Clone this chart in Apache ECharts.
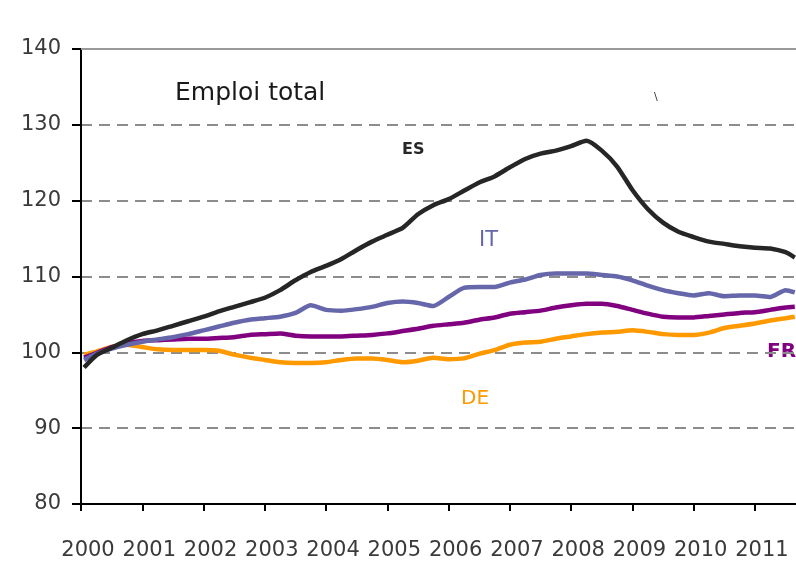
<!DOCTYPE html>
<html>
<head>
<meta charset="utf-8">
<script src="https://cdn.jsdelivr.net/npm/echarts@6/dist/echarts.min.js"></script>
<style>
  html, body { margin: 0; padding: 0; background: #fff; }
  #chart { width: 796px; height: 561px; }
</style>
</head>
<body>
<div id="chart"></div>
<script>
// trimestres (annee decimale)
var times = [2000.05, 2000.25, 2000.5, 2000.75, 2001, 2001.25, 2001.5, 2001.75,
  2002, 2002.25, 2002.5, 2002.75, 2003, 2003.25, 2003.5, 2003.75,
  2004, 2004.25, 2004.5, 2004.75, 2005, 2005.25, 2005.5, 2005.75,
  2006, 2006.25, 2006.5, 2006.75, 2007, 2007.25, 2007.5, 2007.75,
  2008, 2008.25, 2008.5, 2008.75, 2009, 2009.25, 2009.5, 2009.75,
  2010, 2010.25, 2010.5, 2010.75, 2011, 2011.25, 2011.5, 2011.65];

var esValues = [98.0, 99.6, 100.6, 101.6, 102.4, 102.9, 103.5, 104.1,
  104.7, 105.4, 106.0, 106.6, 107.2, 108.2, 109.5, 110.6,
  111.4, 112.3, 113.5, 114.6, 115.5, 116.4, 118.2, 119.4,
  120.2, 121.3, 122.4, 123.2, 124.4, 125.5, 126.2, 126.6,
  127.2, 127.9, 126.6, 124.5, 121.4, 118.9, 117.1, 115.9,
  115.2, 114.6, 114.3, 114.0, 113.8, 113.7, 113.2, 112.5];

var itValues = [99.0, 99.8, 100.5, 101.0, 101.4, 101.7, 102.0, 102.4,
  102.9, 103.4, 103.9, 104.3, 104.5, 104.7, 105.2, 106.2,
  105.6, 105.5, 105.7, 106.0, 106.5, 106.7, 106.5, 106.1,
  107.3, 108.5, 108.6, 108.6, 109.2, 109.6, 110.2, 110.4,
  110.4, 110.4, 110.2, 110.0, 109.5, 108.8, 108.2, 107.8,
  107.5, 107.8, 107.4, 107.5, 107.5, 107.3, 108.2, 107.9];

var frValues = [99.3, 99.9, 100.7, 101.2, 101.5, 101.6, 101.7, 101.8,
  101.8, 101.9, 102.0, 102.3, 102.4, 102.5, 102.2, 102.1,
  102.1, 102.1, 102.2, 102.3, 102.5, 102.8, 103.1, 103.5,
  103.7, 103.9, 104.3, 104.6, 105.1, 105.3, 105.5, 105.9,
  106.2, 106.4, 106.4, 106.1, 105.6, 105.1, 104.7, 104.6,
  104.6, 104.8, 105.0, 105.2, 105.3, 105.6, 105.9, 106.0];

var deValues = [99.7, 100.1, 100.7, 101.0, 100.7, 100.4, 100.3, 100.3,
  100.3, 100.2, 99.7, 99.3, 99.0, 98.7, 98.6, 98.6,
  98.7, 99.0, 99.2, 99.2, 99.0, 98.7, 98.9, 99.3,
  99.1, 99.2, 99.8, 100.3, 101.0, 101.3, 101.4, 101.8,
  102.1, 102.4, 102.6, 102.7, 102.9, 102.7, 102.4, 102.3,
  102.3, 102.6, 103.2, 103.5, 103.8, 104.2, 104.5, 104.7];

var yTicks = [80, 90, 100, 110, 120, 130, 140];

function pairs(vals) {
    var out = [];
    for (var i = 0; i < times.length; i++) {
        out.push([times[i], vals[i]]);
    }
    return out;
}

var font = 'DejaVu Sans';

function line(name, vals, color) {
    return {
        name: name,
        type: 'line',
        data: pairs(vals),
        showSymbol: false,
        smooth: 0.2,
        lineStyle: { color: color, width: 4.5 },
        itemStyle: { color: color }
    };
}

var myChart = echarts.init(document.getElementById('chart'));
var option = {
    backgroundColor: '#fff',
    animation: false,
    grid: { left: 81, right: 0, top: 49, bottom: 56 },
    xAxis: [{
        type: 'value',
        min: 2000,
        max: 2011.67,
        interval: 1,
        axisLine: { lineStyle: { color: '#000', width: 2 } },
        axisTick: { show: true, length: 7, lineStyle: { color: '#000', width: 2 } },
        axisLabel: {
            margin: 36,
            color: '#3a3a3a',
            fontFamily: font,
            fontSize: 21,
            padding: [0, 0, 0, 14],
            showMaxLabel: false,
            formatter: function (v) {
                return Math.abs(v - Math.round(v)) < 0.001 ? String(Math.round(v)) : '';
            }
        },
        splitLine: { show: false }
    }, {
        type: 'value',
        position: 'top',
        min: 2000,
        max: 2011.67,
        axisLine: { show: true, lineStyle: { color: '#999', width: 2 } },
        axisTick: { show: false },
        axisLabel: { show: false },
        splitLine: { show: false }
    }],
    yAxis: {
        type: 'value',
        min: yTicks[0],
        max: yTicks[yTicks.length - 1],
        interval: 10,
        axisLine: { show: true, lineStyle: { color: '#000', width: 2 } },
        axisTick: { show: true, length: 9, lineStyle: { color: '#000', width: 2 } },
        axisLabel: { margin: 20, color: '#3a3a3a', fontFamily: font, fontSize: 21 },
        splitLine: { show: true, lineStyle: { color: '#8c8c8c', width: 2, type: [11, 7] } }
    },
    series: [
        line('DE', deValues, '#ff9900'),
        line('FR', frValues, '#800080'),
        line('IT', itValues, '#6666aa'),
        line('ES', esValues, '#262626')
    ],
    graphic: [
        { type: 'text', left: 175, top: 81, style: { text: 'Emploi total', fill: '#1a1a1a', font: '25px "DejaVu Sans"' } },
        { type: 'text', left: 654, top: 92, style: { text: '\\', fill: '#333', font: '11px "DejaVu Sans"' } },
        { type: 'text', left: 402, top: 142, style: { text: 'ES', fill: '#262626', font: 'bold 16px "DejaVu Sans"' } },
        { type: 'text', left: 479, top: 230, style: { text: 'IT', fill: '#6666aa', font: '21px "DejaVu Sans"' } },
        { type: 'text', left: 767, top: 342, style: { text: 'FR', fill: '#800080', font: 'bold 20px "DejaVu Sans"' } },
        { type: 'text', left: 461, top: 389, style: { text: 'DE', fill: '#ff9900', font: '20px "DejaVu Sans"' } }
    ]
};
myChart.setOption(option, true);
</script>
</body>
</html>
